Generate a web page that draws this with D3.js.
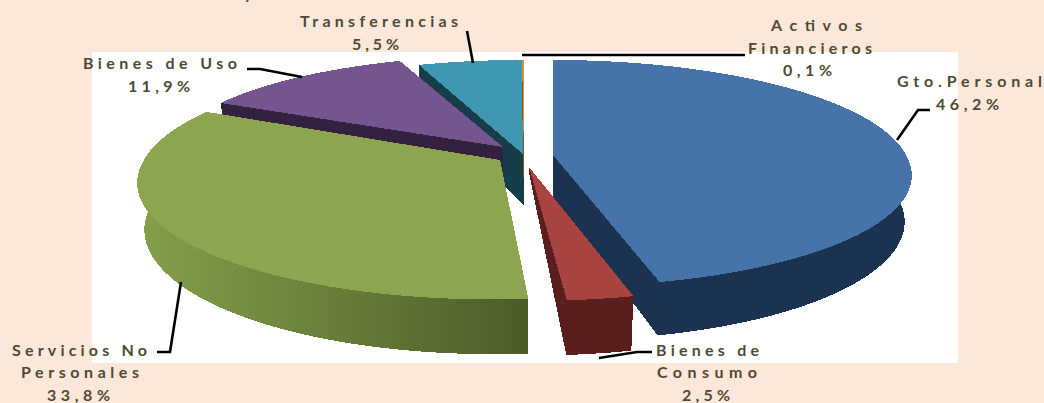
<!DOCTYPE html>
<html><head><meta charset="utf-8">
<script src="https://cdn.jsdelivr.net/npm/d3@7"></script>
<style>html,body{margin:0;padding:0;background:#fce8da;overflow:hidden}svg{display:block}</style>
</head><body><svg id="c" width="1044" height="403"></svg>
<script>
const categories = ["Gto.Personal","Bienes de Consumo","Servicios No Personales","Bienes de Uso","Transferencias","Activos Financieros"];
const shares = [46.2,2.5,33.8,11.9,5.5,0.1];
const topColors = ["#4673aa","#a84440","#8ba64f","#74558f","#3f97b2","#e08a3c"];
const wallColors = ["#1b3350","#5a1f1c","url(#greenWall)","#33213f","#173d4b","#8a5520"];
const apexX = [553,529,500,503,524,524];
const apexY = [155,167,160,147,155,155];
const apexDepth = [42,6,45,45,50,50];
const radiusX = [353,356,356,335,356,356];
const radiusY = [110.3,110,114.6,102.5,112,112];
const persp = [0.161,0.178,0.178,0.126,0.178,0.178];
const shear = [0.06,0.02,-0.05,0,0,0];
const drawOrder = [4,5,3,2,0,1];
const labelLines = [
 ["Transferencias",300,458,27],["5,5%",352,399,50],
 ["Activos",771,862,31],["Financieros",748,872,54],["0,1%",783,832,76],
 ["Gto.Personal",897,1042,87],["46,2%",936,999,110],
 ["Bienes de Uso",83,237,69],["11,9%",128,190,92],
 ["Servicios No",12,147,356],["Personales",21,139,378],["33,8%",47,110,400.5],
 ["Bienes de",656,759,356],["Consumo",657,757,378],["2,5%",682,730,400.5]
];
const leaders = [
 [[467,31],[473,63]],
 [[522,55],[745,55]],
 [[930,110],[918,110],[897,140]],
 [[247,69],[260,69],[302,77]],
 [[157,352],[170,352],[181,282]],
 [[652,352],[637,352],[599,358]]
];
const D=45,SHRINK=0.02;
const svg=d3.select("#c");
svg.append("rect").attr("x",92).attr("y",52).attr("width",866).attr("height",311).attr("fill","#fff");
const defs=svg.append("defs");
const g1=defs.append("linearGradient").attr("id","greenWall").attr("gradientUnits","userSpaceOnUse")
 .attr("x1",138).attr("x2",528).attr("y1",0).attr("y2",0);
g1.append("stop").attr("offset",0).attr("stop-color","#84a04a");
g1.append("stop").attr("offset",1).attr("stop-color","#4c5c2a");

const arcs=d3.pie().sort(null).startAngle(0).endAngle(2*Math.PI)(shares);
function proj(i,a,z){
  const u=Math.sin(a),v=Math.cos(a),w=1+persp[i]*v;
  const dy=-radiusY[i]*v/w;
  return [apexX[i]+radiusX[i]*u/w*(1-SHRINK*z)+shear[i]*Math.max(0,dy), apexY[i]+dy+D*z/w];
}
const line=d3.line();
const layer=svg.append("g").style("shape-rendering","crispEdges");
function outer(i,z){
  const A=arcs[i],n=Math.max(2,Math.ceil((A.endAngle-A.startAngle)*60));
  return d3.range(n+1).map(k=>proj(i,A.startAngle+(A.endAngle-A.startAngle)*k/n,z));
}
drawOrder.forEach(i=>{
  const top=outer(i,0),bot=outer(i,1);
  const c=[apexX[i],apexY[i]],cb=[apexX[i],apexY[i]+apexDepth[i]];
  const walls=[
    [c,top[0],bot[0],cb],
    [c,top[top.length-1],bot[bot.length-1],cb],
    top.concat(bot.slice().reverse())
  ];
  walls.forEach(p=>layer.append("path").attr("d",line(p)+"Z").attr("fill",wallColors[i]));
  layer.append("path").attr("d",line([c].concat(top))+"Z").attr("fill",topColors[i]);
});
const lg=svg.append("g");
leaders.forEach(p=>lg.append("path").attr("d",line(p)).attr("fill","none").attr("stroke","#000").attr("stroke-width",2.6));
const tg=svg.append("g").attr("font-family","Lato, 'Open Sans', sans-serif").attr("font-weight",700).attr("font-size",16).attr("fill","#4d4a32");
labelLines.forEach(l=>tg.append("text").text(l[0]).attr("x",l[1]).attr("y",l[3]).attr("textLength",l[2]-l[1]).attr("lengthAdjust","spacing"));
tg.append("text").text("y").attr("x",244).attr("y",-1);
</script></body></html>
